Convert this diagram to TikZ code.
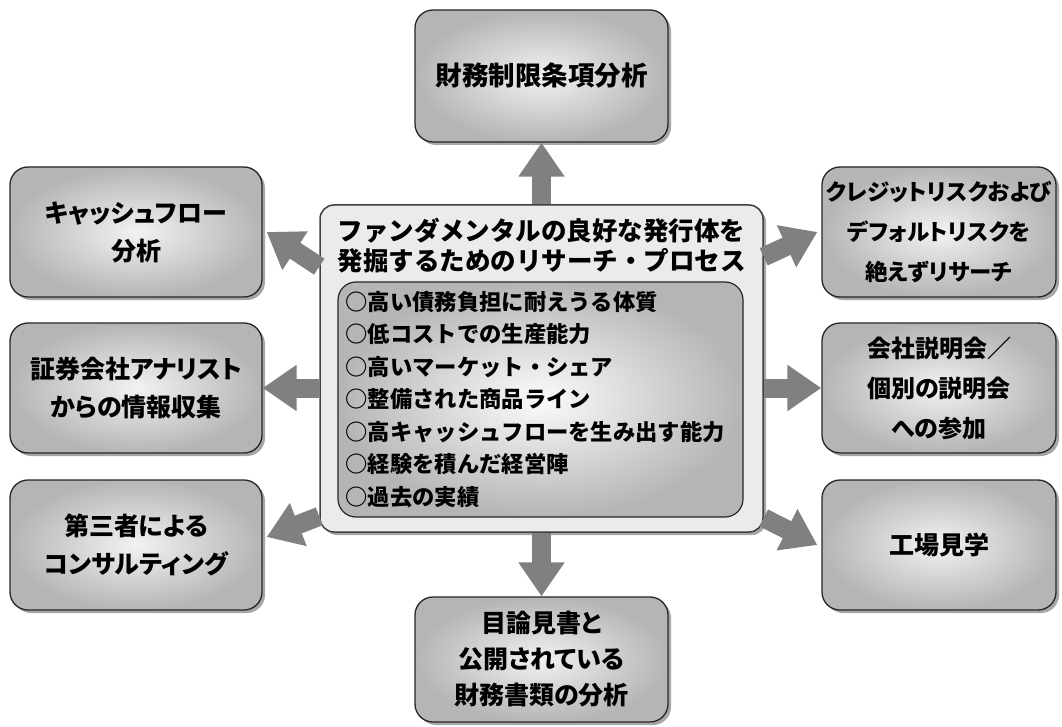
\documentclass[tikz,border=0pt]{standalone}
\usepackage{fontspec}
\newfontfamily\jp{Noto Sans CJK JP}
\newfontfamily\jpp{Noto Sans CJK JP}[RawFeature={+palt}]
\usetikzlibrary{arrows.meta,shadows,calc}
\begin{document}
\begin{tikzpicture}[x=1pt,y=-1pt,
  sbox/.style={draw=black!85, line width=1.3pt, rounded corners=18pt,
    inner color=gray!10, outer color=gray!58,
    drop shadow={shadow xshift=3pt,shadow yshift=-3pt,fill=black,opacity=0.35},
    align=center, text=black, inner sep=0pt,
    minimum width=252pt, minimum height=130pt},
  lbl/.style={font=\jpp\bfseries\fontsize{25}{38}\selectfont},
  cbox/.style={draw=black!75, line width=1.5pt, rounded corners=14pt, fill=gray!16,
    drop shadow={shadow xshift=3pt,shadow yshift=-3pt,fill=black,opacity=0.35}},
  ibox/.style={draw=black!85, line width=1.2pt, rounded corners=18pt,
    inner color=gray!3, outer color=gray!58},
  barrow/.style={draw=black!50, line width=19pt, -{Triangle[width=44pt,length=34pt]}},
]
\useasboundingbox (0,0) rectangle (1062,727);
% surrounding boxes
\node[sbox, lbl, minimum width=253pt, minimum height=132pt, font=\jp\bfseries\fontsize{26.5}{38}\selectfont] (t) at (541.5,76) {財務制限条項分析};
\node[sbox, lbl] (l1) at (136,232) {キャッシュフロー\\分析};
\node[sbox, lbl] (l2) at (136,388) {証券会社アナリスト\\からの情報収集};
\node[sbox, lbl] (l3) at (136,545) {第三者による\\コンサルティング};
\node[sbox, lbl, minimum width=234pt, font=\jpp\bfseries\fontsize{22.5}{40}\selectfont] (r1) at (939,232) {クレジットリスクおよび\\デフォルトリスクを\\絶えずリサーチ};
\node[sbox, lbl, minimum width=234pt, font=\jpp\bfseries\fontsize{24}{40}\selectfont] (r2) at (939,388) {会社説明会／\\個別の説明会\\への参加};
\node[sbox, lbl, minimum width=234pt] (r3) at (939,545) {工場見学};
\node[sbox, lbl, minimum width=253pt, minimum height=125pt, font=\jpp\bfseries\fontsize{25}{36}\selectfont] (b) at (541.5,659.5) {目論見書と\\公開されている\\財務書類の分析};
% center box
\node[cbox, minimum width=443pt, minimum height=327pt] (c) at (541.5,368.5) {};
\node[align=center, inner sep=0pt, font=\jp\bfseries\fontsize{25.5}{30}\selectfont] (ttl) at (541.5,246) {ファンダメンタルの良好な発行体を\\発掘するためのリサーチ・プロセス};
\node[ibox, minimum width=405pt, minimum height=235pt] (in) at (540.5,399.5) {};
\node[anchor=west, align=left, inner sep=0pt, font=\jp\bfseries\fontsize{22.3}{32.5}\selectfont] (lst) at ([xshift=8pt]in.west) {○高い債務負担に耐えうる体質\\○低コストでの生産能力\\○高いマーケット・シェア\\○整備された商品ライン\\○高キャッシュフローを生み出す能力\\○経験を積んだ経営陣\\○過去の実績};
% arrows
\draw[barrow] (c.north) -- (t.south);
\draw[barrow] (c.south) -- (b.north);
\draw[barrow] (c.west |- l2.east) -- (l2.east);
\draw[barrow] (c.east |- r2.west) -- (r2.west);
\draw[barrow] ($(c.north west)!0.19!(c.south west)$) -- ([xshift=4pt]l1.east);
\draw[barrow] ($(c.north east)!0.16!(c.south east)$) -- ([xshift=-4pt]r1.west);
\draw[barrow] ($(c.north west)!0.95!(c.south west)$) -- ([xshift=4pt,yshift=8pt]l3.east);
\draw[barrow] ($(c.north east)!0.955!(c.south east)$) -- ([xshift=-4pt]r3.west);
\end{tikzpicture}
\end{document}
